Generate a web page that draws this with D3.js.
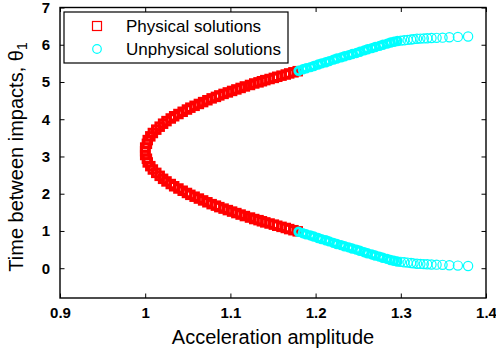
<!DOCTYPE html>
<html>
<head>
<meta charset="utf-8">
<script src="https://cdnjs.cloudflare.com/ajax/libs/d3/7.8.5/d3.min.js"></script>
<style>
  body { margin: 0; background: #fff; }
  svg { display: block; font-family: "Liberation Sans", Arial, Helvetica, sans-serif; }
</style>
</head>
<body>
<svg id="chart" width="496" height="358"></svg>
<script>

//======= data

// physical solutions (red squares), upper and lower branch share acceleration values
var accelRed = [1.000, 1.000, 1.002, 1.003, 1.006, 1.009, 1.013, 1.017, 1.021, 1.025,
                1.030, 1.034, 1.039, 1.044, 1.049, 1.053, 1.058, 1.063, 1.068, 1.073,
                1.078, 1.083, 1.087, 1.092, 1.097, 1.102, 1.107, 1.112, 1.117, 1.123,
                1.128, 1.133, 1.137, 1.141, 1.146, 1.151, 1.155, 1.160, 1.165, 1.169,
                1.174, 1.179];
var thetaRedUpper = [3.14, 3.24, 3.34, 3.44, 3.54, 3.63, 3.72, 3.80, 3.88, 3.95,
                     4.02, 4.08, 4.14, 4.20, 4.26, 4.31, 4.36, 4.41, 4.46, 4.51,
                     4.56, 4.60, 4.64, 4.68, 4.72, 4.76, 4.80, 4.84, 4.88, 4.92,
                     4.96, 4.99, 5.02, 5.05, 5.08, 5.11, 5.14, 5.17, 5.20, 5.23,
                     5.26, 5.29];
var thetaRedLower = [3.14, 3.04, 2.94, 2.84, 2.74, 2.65, 2.56, 2.48, 2.40, 2.33,
                     2.26, 2.20, 2.14, 2.08, 2.02, 1.97, 1.92, 1.87, 1.82, 1.77,
                     1.72, 1.68, 1.64, 1.60, 1.56, 1.52, 1.48, 1.44, 1.40, 1.36,
                     1.32, 1.29, 1.26, 1.23, 1.20, 1.17, 1.14, 1.11, 1.08, 1.05,
                     1.02, 0.99];

// unphysical solutions (cyan circles)
var accelCyan = [1.180, 1.185, 1.189, 1.194, 1.198, 1.203, 1.207, 1.212, 1.216, 1.221,
                 1.225, 1.230, 1.234, 1.239, 1.243, 1.248, 1.252, 1.257, 1.261, 1.266,
                 1.270, 1.275, 1.279, 1.284, 1.288, 1.292, 1.296, 1.300, 1.304, 1.308,
                 1.312, 1.315, 1.319, 1.323, 1.327, 1.331, 1.336, 1.342, 1.349, 1.357,
                 1.367, 1.379];
var thetaCyanUpper = [5.30, 5.34, 5.37, 5.40, 5.43, 5.47, 5.50, 5.53, 5.56, 5.60,
                      5.63, 5.66, 5.69, 5.72, 5.75, 5.78, 5.81, 5.85, 5.88, 5.91,
                      5.94, 5.97, 6.00, 6.03, 6.06, 6.08, 6.10, 6.11, 6.12, 6.13,
                      6.14, 6.15, 6.16, 6.165, 6.17, 6.175, 6.18, 6.185, 6.19, 6.20,
                      6.21, 6.22];
var thetaCyanLower = [0.98, 0.94, 0.91, 0.88, 0.85, 0.81, 0.78, 0.75, 0.72, 0.68,
                      0.65, 0.62, 0.59, 0.56, 0.53, 0.50, 0.47, 0.43, 0.40, 0.37,
                      0.34, 0.31, 0.28, 0.25, 0.22, 0.20, 0.18, 0.17, 0.16, 0.15,
                      0.14, 0.13, 0.12, 0.115, 0.11, 0.105, 0.10, 0.095, 0.09, 0.08,
                      0.07, 0.06];

var xTicks = [0.9, 1, 1.1, 1.2, 1.3, 1.4];
var yTicks = [0, 1, 2, 3, 4, 5, 6, 7];
var legendNames = ["Physical solutions", "Unphysical solutions"];


//======= layout

var plotLeft = 60, plotRight = 486, plotTop = 7.5, plotBottom = 298;
var svg = d3.select("#chart");

var x = d3.scaleLinear().domain([0.9, 1.4]).range([plotLeft, plotRight]);
var y = d3.scaleLinear().domain([-0.8, 7]).range([plotBottom, plotTop]);

function pairs(ax, th) {
  return ax.map(function(a, i) { return [a, th[i]]; });
}

var redPts = pairs(accelRed, thetaRedUpper).concat(pairs(accelRed, thetaRedLower));
var cyanPts = pairs(accelCyan, thetaCyanUpper).concat(pairs(accelCyan, thetaCyanLower));


//======= axes (ticks inside on all four sides, MATLAB style)

var tickLen = 4.5;

svg.append("g")
   .attr("transform", "translate(0," + plotBottom + ")")
   .call(d3.axisBottom(x).tickValues(xTicks).tickSizeInner(-tickLen).tickSizeOuter(0)
          .tickPadding(9).tickFormat(d3.format("")))
   .call(function(g) { g.select(".domain").remove(); });

svg.append("g")
   .attr("transform", "translate(0," + plotTop + ")")
   .call(d3.axisTop(x).tickValues(xTicks).tickSizeInner(-tickLen).tickSizeOuter(0).tickFormat(""))
   .call(function(g) { g.select(".domain").remove(); });

svg.append("g")
   .attr("transform", "translate(" + plotLeft + ",0)")
   .call(d3.axisLeft(y).tickValues(yTicks).tickSizeInner(-tickLen).tickSizeOuter(0).tickPadding(10))
   .call(function(g) { g.select(".domain").remove(); });

svg.append("g")
   .attr("transform", "translate(" + plotRight + ",0)")
   .call(d3.axisRight(y).tickValues(yTicks).tickSizeInner(-tickLen).tickSizeOuter(0).tickFormat(""))
   .call(function(g) { g.select(".domain").remove(); });

svg.selectAll(".tick text")
   .attr("font-family", "'Liberation Sans', Arial, sans-serif")
   .attr("font-size", 15)
   .attr("font-weight", "bold")
   .attr("fill", "#000");
svg.selectAll(".tick line").attr("stroke", "#000");


//======= markers (heavy outlines so the dense runs read as a solid band)

var sq = 7.5;
svg.append("g").selectAll("rect")
   .data(redPts)
   .enter()
   .append("rect")
   .attr("x", function(d) { return x(d[0]) - sq / 2; })
   .attr("y", function(d) { return y(d[1]) - sq / 2; })
   .attr("width", sq)
   .attr("height", sq)
   .attr("fill", "none")
   .attr("stroke", "#ff0000")
   .attr("stroke-width", 3);

svg.append("g").selectAll("circle")
   .data(cyanPts)
   .enter()
   .append("circle")
   .attr("cx", function(d) { return x(d[0]); })
   .attr("cy", function(d) { return y(d[1]); })
   .attr("r", function(d) { return d[0] < 1.30 ? 3.8 : 4.6; })
   .attr("fill", "none")
   .attr("stroke", "#00ffff")
   .attr("stroke-width", function(d) { return d[0] < 1.30 ? 2.8 : 1.2; });


//======= box

svg.append("rect")
   .attr("x", plotLeft).attr("y", plotTop)
   .attr("width", plotRight - plotLeft).attr("height", plotBottom - plotTop)
   .attr("fill", "none")
   .attr("stroke", "#000")
   .attr("stroke-width", 1.4);


//======= axis labels

svg.append("text")
   .attr("x", (plotLeft + plotRight) / 2)
   .attr("y", 344)
   .attr("text-anchor", "middle")
   .attr("font-size", 20)
   .attr("fill", "#000")
   .text("Acceleration amplitude");

var ylab = svg.append("text")
   .attr("transform", "translate(23,157) rotate(-90)")
   .attr("text-anchor", "middle")
   .attr("font-size", 20)
   .attr("fill", "#000");
ylab.append("tspan").text("Time between impacts, \u03b8");
ylab.append("tspan").attr("font-size", 14).attr("dy", 4).text("1");


//======= legend

var legend = svg.append("g");

legend.append("rect")
   .attr("x", 64).attr("y", 12)
   .attr("width", 224).attr("height", 51)
   .attr("fill", "#fff")
   .attr("stroke", "#000")
   .attr("stroke-width", 1.2);

legend.append("rect")
   .attr("x", 97 - 4.5).attr("y", 26 - 4.5)
   .attr("width", 9).attr("height", 9)
   .attr("fill", "none").attr("stroke", "#ff0000").attr("stroke-width", 1.2);

legend.append("circle")
   .attr("cx", 97).attr("cy", 49).attr("r", 4.3)
   .attr("fill", "none").attr("stroke", "#00ffff").attr("stroke-width", 1.2);

legend.selectAll("text.lg")
   .data(legendNames)
   .enter()
   .append("text")
   .attr("class", "lg")
   .attr("x", 126)
   .attr("y", function(d, i) { return 32 + i * 23; })
   .attr("font-size", 17)
   .attr("fill", "#000")
   .text(function(d) { return d; });

</script>
</body>
</html>
